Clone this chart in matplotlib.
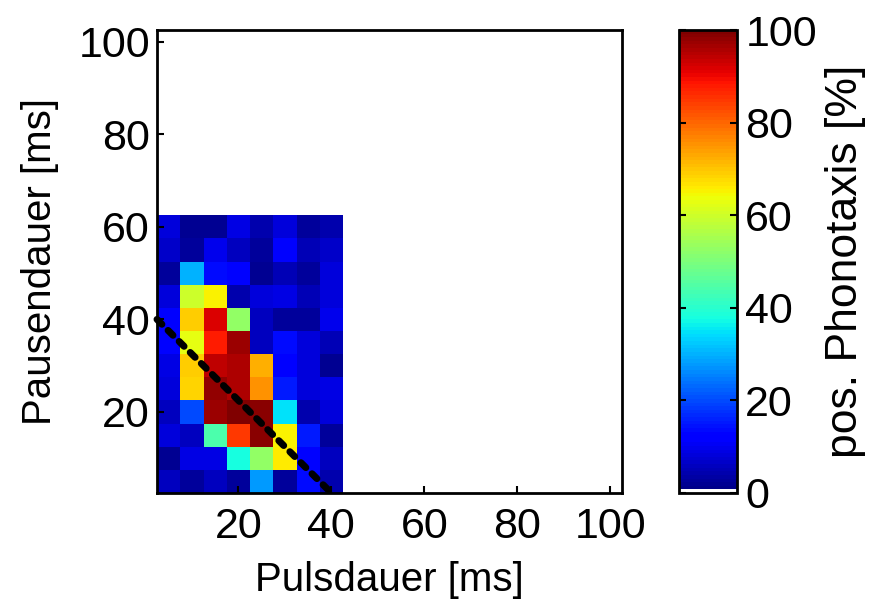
import numpy as np
import matplotlib
matplotlib.use("Agg")
import matplotlib.pyplot as plt
from matplotlib.colors import ListedColormap


# ================= DATA =================

pulse_ms = [5, 10, 15, 20, 25, 30, 35, 40]
pause_ms = [60, 55, 50, 45, 40, 35, 30, 25, 20, 15, 10, 5]  # top row first

# pos. phonotaxis [%], rows follow pause_ms, columns follow pulse_ms
phonotaxis = [
    [8, 2, 2, 9, 4, 8, 3, 4],
    [7, 3, 10, 6, 3, 13, 5, 7],
    [3, 30, 14, 13, 2, 5, 3, 8],
    [8, 60, 65, 4, 8, 9, 5, 8],
    [12, 69, 92, 53, 6, 3, 3, 10],
    [13, 63, 88, 97, 6, 14, 8, 5],
    [9, 69, 94, 96, 72, 12, 8, 2],
    [8, 68, 98, 96, 75, 15, 8, 9],
    [6, 20, 97, 100, 99, 35, 4, 8],
    [8, 6, 44, 85, 99, 65, 15, 3],
    [2, 9, 9, 38, 53, 66, 13, 6],
    [6, 3, 6, 3, 28, 3, 14, 4],
]

boundary_x = [2.5, 40]
boundary_y = [40, 2.5]

xticks = [20, 40, 60, 80, 100]
yticks = [20, 40, 60, 80, 100]
cticks = [0, 20, 40, 60, 80, 100]


# ================= STYLE =================

plt.rcParams["font.family"] = ["Liberation Sans", "DejaVu Sans"]
FS = 31

jet = plt.get_cmap("jet", 128)(np.linspace(0, 1, 128))
jet[0] = [1, 1, 1, 1]
cmap = ListedColormap(jet)
cmap.set_bad("white")


# ================= PLOT =================

fig = plt.figure(figsize=(8.73, 6.09), dpi=100)
ax = fig.add_axes([157 / 873, 116 / 609, 465 / 873, 463 / 609])

step = 5
xc = np.array(pulse_ms)
xe = np.concatenate([[xc[0] - step / 2], xc + step / 2])
ys = np.array(pause_ms[::-1])
ye = np.concatenate([[ys[0] - step / 2], ys + step / 2])
vals = np.array(phonotaxis, dtype=float)[::-1]

mesh = ax.pcolormesh(xe, ye, vals, cmap=cmap, vmin=0, vmax=100)

ax.plot(boundary_x, boundary_y, color="black", lw=5,
        linestyle=(0, (1.0, 1.25)), dash_capstyle="round",
        solid_capstyle="round", clip_on=False, zorder=5)

ax.set_xlim(2.5, 102.5)
ax.set_ylim(2.5, 102.5)
ax.set_xticks(xticks)
ax.set_yticks(yticks)
ax.tick_params(direction="in", length=5, width=1.5, labelsize=FS)
ax.tick_params(axis="x", pad=10)
ax.tick_params(axis="y", pad=5)
for s in ax.spines.values():
    s.set_linewidth(2)

ax.set_xlabel("Pulsdauer [ms]", fontsize=29, labelpad=10)
ax.set_ylabel("Pausendauer [ms]", fontsize=29, labelpad=14)

# colorbar
cax = fig.add_axes([679 / 873, 116 / 609, 58 / 873, 463 / 609])
cb = fig.colorbar(mesh, cax=cax, ticks=cticks)
cb.outline.set_linewidth(2)
cax.tick_params(axis="y", direction="in", length=5, width=1.5,
                left=True, right=True, labelsize=FS, pad=6)
cb.set_label("pos. Phonotaxis [%]", fontsize=32, labelpad=6)

fig.savefig("out.png", dpi=100)
